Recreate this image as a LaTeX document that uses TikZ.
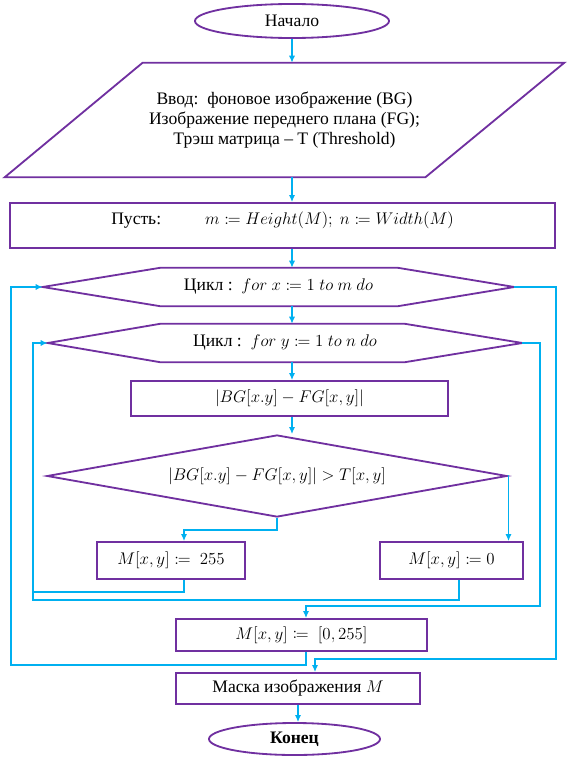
\documentclass[tikz,border=0pt]{standalone}
\usepackage{amsmath,mathtools}
\usepackage{fontspec}
\setmainfont{Liberation Serif}
\usepackage{tikz}
\usetikzlibrary{arrows.meta,calc,positioning,shapes.geometric}
\definecolor{FlowPurple}{RGB}{112,48,160}
\definecolor{FlowCyan}{RGB}{0,176,240}

\begin{document}
\begin{tikzpicture}[x=0.025cm,y=-0.025cm,>={Latex[length=5pt,width=4.5pt]},
  font=\fontsize{12.5}{14.5}\selectfont,
  frame/.style={draw=FlowPurple,line width=1.3pt},
  blk/.style={frame,inner sep=0pt},
  term/.style={blk,ellipse},
  box/.style={blk,rectangle},
  plain/.style={inner sep=0pt},
  arr/.style={->,draw=FlowCyan,line width=1pt},
  ln/.style={draw=FlowCyan,line width=1pt}]
\useasboundingbox (0,0) rectangle (568,763);
\node[term,minimum width=4.85cm,minimum height=0.85cm] (start) at (292,21) {Начало};
\node[plain,minimum width=13.975cm,minimum height=2.85cm,align=center] (input) at (284.5,120) {Ввод:\ \ фоновое изображение (BG)\\Изображение переднего плана (FG);\\Трэш матрица – T (Threshold)};
\draw[frame] (input.south west) -- ($(input.north west)+(138,0)$) -- (input.north east) -- ($(input.south east)+(-139,0)$) -- cycle;
\node[box,minimum width=13.625cm,minimum height=1.125cm,text depth=0.35cm] (let) at (282.5,225.5) {Пусть:\hspace{1.1cm}$m\coloneqq Height(M);\ n\coloneqq Width(M)$};
\node[plain,minimum width=11.775cm,minimum height=0.95cm] (loopx) at (278.5,287) {Цикл :\ \ $for\ x\coloneqq 1\ to\ m\ do$};
\draw[frame] (loopx.west) -- ($(loopx.north west)+(118,0)$) -- ($(loopx.north east)+(-117,0)$) -- (loopx.east) -- ($(loopx.south east)+(-117,0)$) -- ($(loopx.south west)+(118,0)$) -- cycle;
\node[plain,minimum width=11.85cm,minimum height=0.95cm] (loopy) at (285,343) {Цикл :\ \ $for\ y\coloneqq 1\ to\ n\ do$};
\draw[frame] (loopy.west) -- ($(loopy.north west)+(113,0)$) -- ($(loopy.north east)+(-118,0)$) -- (loopy.east) -- ($(loopy.south east)+(-118,0)$) -- ($(loopy.south west)+(113,0)$) -- cycle;
\node[box,minimum width=7.925cm,minimum height=0.875cm] (diff) at (289.5,398.5) {$|BG[x.y]-FG[x,y]|$};
\node[blk,diamond,aspect=5.61,minimum width=11.5cm,minimum height=2.05cm] (cond) at (277,476) {$|BG[x.y]-FG[x,y]|>T[x,y]$};
\node[box,minimum width=3.7cm,minimum height=0.925cm] (set255) at (171,560.5) {$M[x,y]\coloneqq\ 255$};
\node[box,minimum width=3.575cm,minimum height=0.925cm] (set0) at (451.5,560.5) {$M[x,y]\coloneqq 0$};
\node[box,minimum width=6.275cm,minimum height=0.8cm] (clamp) at (301.5,635) {$M[x,y]\coloneqq\ [0,255]$};
\node[box,minimum width=6.1cm,minimum height=0.775cm] (mask) at (298,688.5) {Маска изображения $M$};
\node[term,minimum width=4.275cm,minimum height=0.8cm] (stop) at (294.5,739) {\textbf{Конец}};
\draw[arr] (start.south) -- (start.south |- input.north);
\draw[arr] (input.south -| start.south) -- (let.north -| start.south);
\draw[arr] (let.south -| start.south) -- (loopx.north -| start.south);
\draw[arr] (loopx.south -| start.south) -- (loopy.north -| start.south);
\draw[arr] (loopy.south -| start.south) -- (diff.north -| start.south);
\draw[arr] (diff.south -| start.south) -- (cond.north -| start.south);
\draw[arr] (cond.south) -- ++(0,12) -| ($(set255.north)+(13,0)$);
\draw[arr] (cond.east) -| ($(set0.north)+(57,0)$);
\draw[ln] ($(set255.south)+(13,0)$) |- (33,592);
\draw[arr] ($(set0.south)+(7.5,0)$) |- (33,600) |- (loopy.west);
\draw[arr] (loopy.east) -| (540,606) -| ($(clamp.north)+(4.5,0)$);
\draw[arr] ($(clamp.south)+(4.5,0)$) |- (11,665) |- (loopx.west);
\draw[arr] (loopx.east) -| (556,659) -| ($(mask.north)+(17,0)$);
\draw[arr] (mask.south) -- (mask.south |- stop.north);
\end{tikzpicture}
\end{document}
